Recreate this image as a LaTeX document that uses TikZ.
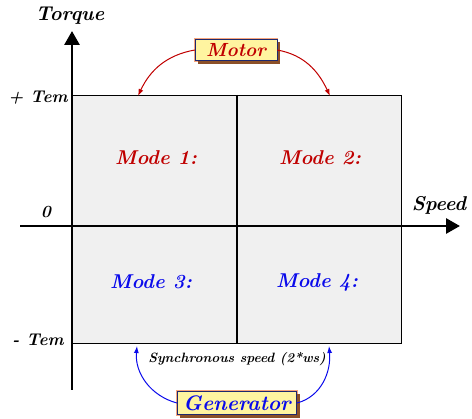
\documentclass[tikz,border=0pt]{standalone}
\usepackage{fontspec}
\usepackage{tikz}
\usetikzlibrary{arrows.meta,shadows}

\definecolor{modered}{RGB}{192,0,0}
\definecolor{modeblue}{RGB}{10,10,235}
\definecolor{boxyellow}{RGB}{255,244,160}
\definecolor{boxshadow}{RGB}{140,80,40}
\definecolor{boxglow}{RGB}{245,165,125}
\definecolor{boxline}{RGB}{30,40,110}
\definecolor{quadgray}{RGB}{240,240,240}

\tikzset{
  axislbl/.style={font=\fontsize{20}{22}\selectfont\bfseries\itshape},
  temlbl/.style={font=\fontsize{17}{19}\selectfont\bfseries\itshape},
  modelbl/.style={font=\fontsize{20}{22}\selectfont\bfseries\itshape},
  tagbox/.style={draw=boxline, fill=boxyellow, line width=0.6pt,
    inner xsep=8pt, inner ysep=4pt,
    preaction={draw=boxglow, line width=3pt},
    drop shadow={shadow xshift=3pt, shadow yshift=-3pt, fill=boxshadow, draw=none, opacity=1}},
  axisarrow/.style={line width=2.8pt, -{Triangle[length=14pt,width=15pt]}},
  curvearrow/.style={line width=1pt, -{Latex[length=7pt,width=5pt]}},
}

\begin{document}
\begin{tikzpicture}[x=1pt,y=-1pt]
    \useasboundingbox (0,0) rectangle (472,419);
    % Quadrants
    \draw[fill=quadgray, line width=0.7pt] (72,95) rectangle (401,343);
    \coordinate (midtop) at (237,95);
    \coordinate (midbot) at (237,343);
    \draw[line width=2.8pt] (midtop) -- (midbot);
    % Axes
    \coordinate (xstart) at (20,226);
    \coordinate (xend) at (460,226);
    \coordinate (ystart) at (72,390);
    \coordinate (yend) at (72,31);
    \draw[axisarrow] (xstart) -- (xend);
    \draw[axisarrow] (ystart) -- (yend);
    % Axis labels
    \node[axislbl] (torque) at (70,16) {Torque};
    \node[axislbl] (speed) at (439,205) {Speed};
    \node[temlbl] (ptem) at (38,98) {+ Tem};
    \node[temlbl] (zero) at (46,212) {0};
    \node[temlbl] (mtem) at (38,340) {- Tem};
    % Modes
    \node[modelbl, modered] (mode1) at (156,158) {Mode 1:};
    \node[modelbl, modered] (mode2) at (320,158) {Mode 2:};
    \node[modelbl, modeblue] (mode3) at (151,282) {Mode 3:};
    \node[modelbl, modeblue] (mode4) at (317,282) {Mode 4:};
    % Motor
    \node[tagbox, inner xsep=11pt, font=\fontsize{19}{21}\selectfont\bfseries\itshape, text=modered] (motor) at (236,50) {Motor};
    \coordinate (motl) at (138,96);
    \coordinate (motr) at (330,96);
    \draw[curvearrow, modered] (motor.west) to[out=190,in=65] (motl);
    \draw[curvearrow, modered] (motor.east) to[out=-10,in=115] (motr);
    % Generator
    \node[font=\fontsize{13.5}{15}\selectfont\bfseries\itshape] (sync) at (237,359) {Synchronous speed (2*ws)};
    \node[tagbox, inner xsep=6pt, font=\fontsize{21}{23}\selectfont\bfseries\itshape, text=modeblue] (gen) at (237,403) {Generator};
    \coordinate (genl) at (137,346);
    \coordinate (genr) at (329,346);
    \draw[curvearrow, modeblue] (gen.west) to[out=165,in=-95] (genl);
    \draw[curvearrow, modeblue] (gen.east) to[out=15,in=-85] (genr);
\end{tikzpicture}
\end{document}
